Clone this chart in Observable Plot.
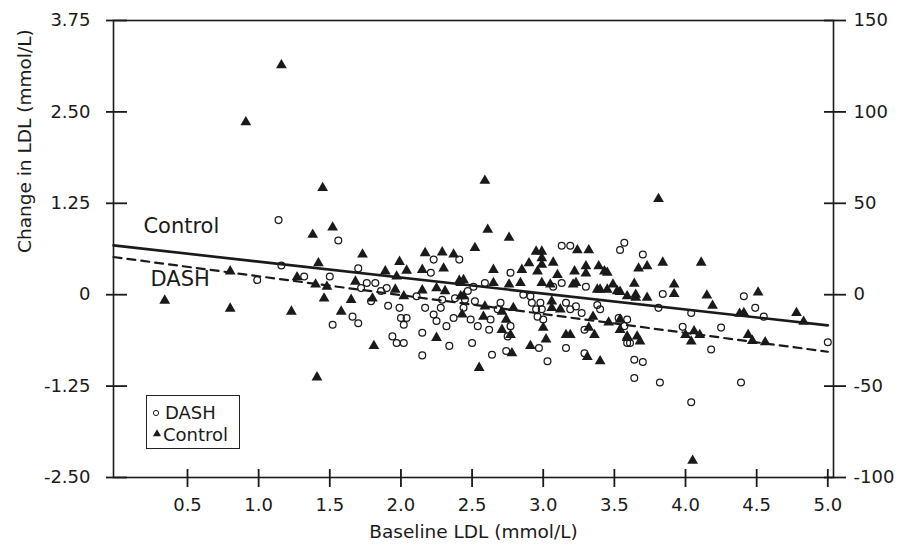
<!DOCTYPE html>
<html><head><meta charset="utf-8">
<script src="https://cdn.jsdelivr.net/npm/d3@7"></script>
<script src="https://cdn.jsdelivr.net/npm/@observablehq/plot@0.6"></script>
<style>
body{margin:0;background:#fff;font-family:"DejaVu Sans",sans-serif;}
#wrap{position:relative;width:899px;height:552px;overflow:hidden;}
#legend{position:absolute;left:146px;top:395px;width:94px;height:54px;border:1.6px solid #222;box-sizing:border-box;background:#fff;}
#legend svg{display:block;}
</style></head><body>
<div id="wrap"><div id="legend"></div></div>
<script>
// ---- data ----
const controlBaseline = [1.16,0.91,1.45,1.38,1.52,2.59,2.61,2.76,2.52,1.73,3.81,3.84,4.11,3.24,3.32,0.34,0.80,1.23,1.41,1.81,2.55,4.05,4.51,4.15,3.92,3.64,4.19,4.78,4.83,4.44,4.47,4.56,4.06,4.04,4.00,3.68,3.59,3.54,3.40,3.31,3.46,3.35,3.19,3.16,3.40,3.49,3.21,3.73,3.65,3.54,4.41,0.80,
1.42,1.27,1.40,1.48,1.46,1.65,1.58,1.68,1.80,1.99,2.04,2.17,2.29,2.37,2.30,2.15,1.96,2.02,2.15,2.25,2.31,2.41,2.44,2.43,2.25,1.89,1.97,
2.95,2.99,2.99,2.99,2.90,2.85,2.96,3.07,3.10,3.22,3.30,3.30,3.39,3.43,3.45,3.67,2.65,2.44,2.42,2.65,2.76,2.84,2.99,3.05,3.23,3.38,3.45,3.52,3.59,3.65,2.42,2.59,2.58,2.71,2.74,2.79,3.06,3.06,3.12,2.71,2.77,3.00,3.32,3.36,3.54,3.59,3.66,2.91,3.02,2.78,
3.73,3.92,4.38,4.10];
const controlChange = [3.14,2.36,1.46,0.82,0.92,1.56,0.89,0.78,0.64,0.55,1.31,0.44,0.44,0.61,0.61,-0.08,-0.19,-0.23,-1.13,-0.70,-1.00,-2.27,0.03,-0.01,0.14,0.15,-0.15,-0.25,-0.37,-0.55,-0.63,-0.65,-0.50,-0.64,-0.55,-0.64,-0.59,-0.48,-0.91,-0.85,-0.38,-0.30,-0.55,-0.55,0.07,0.14,0.14,-0.04,-0.04,0.04,-0.25,0.32,
0.43,0.24,0.14,0.11,-0.05,-0.07,-0.23,0.18,-0.05,0.45,0.33,0.57,0.58,0.55,0.36,0.34,0.07,-0.02,0.06,0.09,0.05,0.19,-0.02,-0.27,-0.59,0.32,0.25,
0.59,0.59,0.50,0.41,0.43,0.34,0.32,0.44,0.27,0.32,0.39,0.29,0.39,0.32,0.30,0.36,0.34,0.20,0.16,0.16,0.14,0.16,0.16,0.14,0.16,0.07,0.07,0.05,-0.02,0.00,-0.02,-0.16,-0.30,-0.23,-0.34,-0.18,-0.09,-0.18,-0.20,-0.48,-0.55,-0.45,-0.45,-0.55,-0.34,-0.57,-0.57,-0.70,-0.61,-0.80,
0.39,0.01,-0.26,-0.55];

const dashBaseline = [1.14,1.16,0.99,
1.56,1.70,1.50,1.32,1.82,1.90,1.79,1.91,1.99,2.00,2.04,2.02,1.66,1.70,1.52,1.94,1.97,2.02,2.15,2.15,2.34,2.23,2.25,2.32,2.28,2.37,2.38,2.44,2.41,2.23,2.21,2.11,2.17,1.86,1.72,1.76,2.29,
3.13,3.19,3.57,3.54,2.77,2.59,2.51,2.47,3.13,3.30,2.70,2.68,2.91,2.92,2.95,2.98,2.99,2.96,3.00,3.16,3.19,3.23,3.27,3.38,3.40,3.53,3.59,3.57,2.49,2.54,2.62,2.63,2.77,2.75,2.50,2.64,2.74,2.97,3.03,3.16,3.29,3.29,3.59,3.64,3.64,2.45,2.52,3.07,2.86,
3.70,3.84,3.81,4.04,4.41,4.49,4.55,3.98,4.25,4.18,5.00,3.70,3.82,4.39,3.61,4.04];
const dashChange = [1.02,0.40,0.20,
0.74,0.36,0.25,0.25,0.16,0.09,-0.09,-0.15,-0.18,-0.32,-0.32,-0.41,-0.30,-0.39,-0.41,-0.57,-0.66,-0.66,-0.52,-0.83,-0.70,-0.27,-0.36,-0.43,-0.18,-0.32,-0.05,-0.18,0.48,0.48,0.30,-0.02,-0.18,0.05,0.09,0.16,-0.07,
0.67,0.67,0.71,0.61,0.30,0.16,0.11,0.05,0.16,0.11,-0.11,-0.20,-0.02,-0.11,-0.20,-0.11,-0.20,-0.30,-0.34,-0.11,-0.20,-0.16,-0.25,-0.14,-0.20,-0.32,-0.34,-0.43,-0.34,-0.43,-0.48,-0.34,-0.43,-0.57,-0.66,-0.82,-0.77,-0.73,-0.91,-0.73,-0.80,-0.48,-0.66,-0.89,-1.14,-0.07,-0.09,0.11,0.00,
0.55,0.01,-0.18,-0.25,-0.02,-0.18,-0.30,-0.44,-0.45,-0.75,-0.65,-0.92,-1.20,-1.20,-0.66,-1.47];

// fitted regression lines (intercept, slope) in mmol/L
const fitGroups = ["Control", "DASH"];
const fitIntercepts = [0.67, 0.51];
const fitSlopes = [-0.218, -0.258];
const fitRange = [-0.02, 5.0];

// in-plot line labels
const lineLabelText = ["Control", "DASH"];
const lineLabelX = [0.19, 0.24];
const lineLabelY = [0.93, 0.21];

// axes
const xTickValues = [0.5, 1.0, 1.5, 2.0, 2.5, 3.0, 3.5, 4.0, 4.5, 5.0];
const xTickLabels = ["0.5","1.0","1.5","2.0","2.5","3.0","3.5","4.0","4.5","5.0"];
const leftTickValues = [-2.5, -1.25, 0, 1.25, 2.5, 3.75];
const leftTickLabels = ["-2.50","-1.25","0","1.25","2.50","3.75"];
const rightTickLabels = [-100, -50, 0, 50, 100, 150];  // percent change
const pctPerMmol = 40;
const xTitle = "Baseline LDL (mmol/L)";
const yTitle = "Change in LDL (mmol/L)";
const legendLabels = ["DASH", "Control"];

// ---- build tables ----
const control = controlBaseline.map((x, i) => ({x, y: controlChange[i]}));
const dash = dashBaseline.map((x, i) => ({x, y: dashChange[i]}));
const fitLines = fitGroups.map((g, i) => fitRange.map(x => ({group: g, x, y: fitIntercepts[i] + fitSlopes[i] * x})));
const lineLabels = lineLabelText.map((t, i) => ({t, x: lineLabelX[i], y: lineLabelY[i]}));
const rightTickValues = rightTickLabels.map(v => v / pctPerMmol);

const ink = "#1a1a1a";
const chart = Plot.plot({
  width: 899, height: 552,
  marginLeft: 113, marginRight: 66, marginTop: 20, marginBottom: 75,
  x: {domain: [-0.02, 5.04]},
  y: {domain: [-2.5, 3.75]},
  style: {fontFamily: "DejaVu Sans, sans-serif", fontSize: "18px", color: ink, background: "#fff", overflow: "visible"},
  marks: [
    Plot.frame({stroke: ink, strokeWidth: 1.6}),
    // left axis
    Plot.axisY({anchor: "left", ticks: leftTickValues, tickSize: 0, tickPadding: 23, fontSize: 18,
      tickFormat: d => leftTickLabels[leftTickValues.indexOf(d)], label: null}),
    Plot.axisY({anchor: "left", ticks: leftTickValues, tickSize: 21, dx: 14, strokeWidth: 1.8,
      tickFormat: () => "", label: null}),
    // right axis (percent)
    Plot.axisY({anchor: "right", ticks: rightTickValues, tickSize: 0, tickPadding: 20, fontSize: 18,
      tickFormat: d => String(rightTickLabels[rightTickValues.indexOf(d)]), label: null}),
    Plot.axisY({anchor: "right", ticks: rightTickValues, tickSize: 22, dx: -10, strokeWidth: 1.8,
      tickFormat: () => "", label: null}),
    // bottom axis
    Plot.axisX({anchor: "bottom", ticks: xTickValues, tickSize: 0, tickPadding: 21, fontSize: 18,
      tickFormat: d => xTickLabels[xTickValues.indexOf(d)], label: null}),
    Plot.axisX({anchor: "bottom", ticks: xTickValues, tickSize: 18, dy: -8, strokeWidth: 1.8,
      tickFormat: () => "", label: null}),
    // axis titles
    Plot.text([xTitle], {frameAnchor: "bottom", dy: 60, text: d => d, fontSize: 18.5, fill: ink}),
    Plot.text([yTitle], {frameAnchor: "left", dx: -88, dy: 4, rotate: -90, text: d => d, fontSize: 18.5, fill: ink}),
    // points
    Plot.dot(dash, {x: "x", y: "y", r: 3.4, stroke: ink, strokeWidth: 1.25, fill: "none"}),
    Plot.dot(control, {x: "x", y: "y", r: 4, symbol: "triangle", fill: ink, stroke: "none"}),
    // fitted lines
    Plot.line(fitLines[0], {x: "x", y: "y", stroke: ink, strokeWidth: 2.6}),
    Plot.line(fitLines[1], {x: "x", y: "y", stroke: ink, strokeWidth: 2.2, strokeDasharray: "8,6"}),
    // line labels
    Plot.text(lineLabels, {x: "x", y: "y", text: "t", textAnchor: "start", fontSize: 21, fill: ink})
  ]
});
document.getElementById("wrap").prepend(chart);

// legend
const lg = d3.select("#legend").append("svg").attr("width", 92).attr("height", 52);
lg.append("circle").attr("cx", 9).attr("cy", 17).attr("r", 2.6).attr("fill", "none").attr("stroke", ink).attr("stroke-width", 1);
lg.append("path").attr("d", d3.symbol(d3.symbolTriangle, 28)()).attr("transform", "translate(10,38)").attr("fill", ink);
lg.selectAll("text").data(legendLabels).join("text")
  .attr("x", (d, i) => i === 0 ? 18 : 16).attr("y", (d, i) => i === 0 ? 23 : 45)
  .attr("font-family", "DejaVu Sans, sans-serif").attr("font-size", 18).attr("fill", ink)
  .text(d => d);
</script>
</body></html>
